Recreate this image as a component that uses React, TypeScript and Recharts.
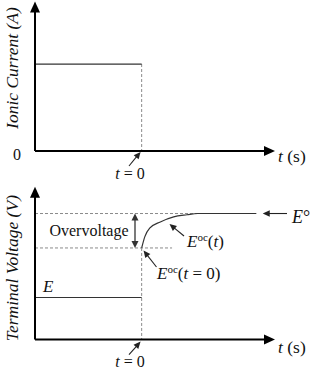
import React from 'react';
import { ComposedChart, Line, XAxis, YAxis, ReferenceLine, ReferenceDot } from 'recharts';

// ---- data ----
const T_DOMAIN: [number, number] = [-4, 6.5];
const T_START = -4;
const T_STEP = 0;
const T_AXIS_END = 5.0;

const I_DOMAIN: [number, number] = [-0.333, 1.736];
const I_LEVEL = 1;
const I_AXIS_TOP = 1.72;

const V_DOMAIN: [number, number] = [-0.702, 3.798];
const V_AXIS_TOP = 3.64;
const E_VALUE = 1.0;
const EOC0 = 2.18;
const E_STD = 3.0;

const currentT = [T_START, T_STEP];
const currentV = [I_LEVEL, I_LEVEL];
const voltT = [T_START, T_STEP];
const voltV = [E_VALUE, E_VALUE];
const curveT = [0, 0.12, 0.3, 0.7, 1.2, 1.7, 2.1, 4.3];
const curveV = [2.18, 2.45, 2.65, 2.8, 2.92, 2.97, 3.0, 3.0];

const yTitleTop = 'Ionic Current (A)';
const yTitleBottom = 'Terminal Voltage (V)';
const zeroTick = '0';
const stepLabel = '= 0';
const unitLabel = '(s)';
const overLabel = 'Overvoltage';

const currentData = currentT.map((t, i) => ({ t, v: currentV[i] }));
const voltData = voltT.map((t, i) => ({ t, v: voltV[i] }));
const curveData = curveT.map((t, i) => ({ t, v: curveV[i] }));

// ---- helpers ----
const FONT = 'Liberation Serif, DejaVu Serif, serif';
const INK = '#111';
const DASH = '#8a8a8a';

type ArrowOpt = { L: number; W: number; stroke: string; sw: number; both?: boolean };
const arrow = (o: ArrowOpt) => (p: any) => {
  const { x1, y1, x2, y2 } = p;
  const dx = x2 - x1, dy = y2 - y1;
  const len = Math.hypot(dx, dy) || 1;
  const ux = dx / len, uy = dy / len;
  const head = (tx: number, ty: number, vx: number, vy: number) => {
    const bx = tx - vx * o.L, by = ty - vy * o.L;
    return `${tx},${ty} ${bx - vy * o.W},${by + vx * o.W} ${bx + vy * o.W},${by - vx * o.W}`;
  };
  const sx = o.both ? x1 + ux * o.L * 0.8 : x1;
  const sy = o.both ? y1 + uy * o.L * 0.8 : y1;
  return (
    <g>
      <line x1={sx} y1={sy} x2={x2 - ux * o.L * 0.8} y2={y2 - uy * o.L * 0.8} stroke={o.stroke} strokeWidth={o.sw} />
      <polygon points={head(x2, y2, ux, uy)} fill={o.stroke} />
      {o.both && <polygon points={head(x1, y1, -ux, -uy)} fill={o.stroke} />}
    </g>
  );
};

const axisArrow = arrow({ L: 11, W: 5, stroke: '#000', sw: 2 });
const smallArrow = arrow({ L: 7, W: 3.2, stroke: '#222', sw: 1.1 });
const doubleArrow = arrow({ L: 7, W: 3.5, stroke: '#333', sw: 1.3, both: true });

const textAt = (dx: number, dy: number, content: React.ReactNode, extra: any = {}) => (p: any) => {
  const { fontSize = 16, fontStyle, ...rest } = extra;
  return (
    <text x={p.cx + dx} y={p.cy + dy} fill={INK} {...rest}
      style={{ fontFamily: FONT, fontSize, fontStyle: fontStyle || 'normal' }}>
      {content}
    </text>
  );
};

const rotTitle = (dx: number, label: string) => (p: any) => {
  const x = p.cx + dx, y = p.cy;
  return (
    <text x={x} y={y} transform={`rotate(-90 ${x} ${y})`} textAnchor="middle" fill={INK}
      style={{ fontFamily: FONT, fontStyle: 'italic', fontSize: 17.5 }}>
      {label}
    </text>
  );
};

const it = (s: string) => <tspan style={{ fontStyle: 'italic' }}>{s}</tspan>;

const tUnit = (
  <>
    {it('t')}
    <tspan> {unitLabel}</tspan>
  </>
);
const tZero = (
  <>
    {it('t')}
    <tspan> {stepLabel}</tspan>
  </>
);
const eoc = (arg: React.ReactNode) => (
  <>
    {it('E')}
    <tspan style={{ fontSize: 11 }} dy={-6}>oc</tspan>
    <tspan dy={6}>(</tspan>
    {arg}
    <tspan>)</tspan>
  </>
);

const axesCommon = (yDomain: [number, number]) => [
  <XAxis key="x" type="number" dataKey="t" domain={T_DOMAIN} hide allowDataOverflow />,
  <YAxis key="y" type="number" dataKey="v" domain={yDomain} hide allowDataOverflow />,
];

export default function App() {
  return (
    <div style={{ position: 'absolute', left: 0, top: 0, width: 315, height: 369, background: '#fff', fontFamily: FONT }}>
      {/* Top panel: ionic current */}
      <div style={{ position: 'absolute', left: 0, top: 0 }}>
        <ComposedChart width={315} height={186} margin={{ top: 0, right: 0, bottom: 6, left: 35 }}>
          {axesCommon(I_DOMAIN)}
          <ReferenceLine segment={[{ x: T_STEP, y: I_LEVEL }, { x: T_STEP, y: 0 }]} stroke={DASH} strokeDasharray="3 2" ifOverflow="visible" />
          <Line data={currentData} dataKey="v" type="linear" stroke="#333" strokeWidth={1.2} dot={false} isAnimationActive={false} />
          <ReferenceLine segment={[{ x: T_START, y: 0 }, { x: T_AXIS_END, y: 0 }]} shape={axisArrow} ifOverflow="visible" />
          <ReferenceLine segment={[{ x: T_START, y: 0 }, { x: T_START, y: I_AXIS_TOP }]} shape={axisArrow} ifOverflow="visible" />
          <ReferenceLine segment={[{ x: -0.475, y: -0.172 }, { x: -0.04, y: -0.01 }]} shape={smallArrow} ifOverflow="visible" />
          <ReferenceDot x={T_START} y={0.954} r={0} ifOverflow="visible" shape={rotTitle(-17, yTitleTop)} />
          <ReferenceDot x={T_START} y={0} r={0} ifOverflow="visible" shape={textAt(-14, 9, zeroTick, { textAnchor: 'end' })} />
          <ReferenceDot x={T_STEP} y={0} r={0} ifOverflow="visible" shape={textAt(-11.7, 28, tZero, { textAnchor: 'middle' })} />
          <ReferenceDot x={T_AXIS_END} y={0} r={0} ifOverflow="visible" shape={textAt(3, 11, tUnit, { fontSize: 17.5 })} />
        </ComposedChart>
      </div>

      {/* Bottom panel: terminal voltage */}
      <div style={{ position: 'absolute', left: 0, top: 180 }}>
        <ComposedChart width={315} height={189} margin={{ top: 0, right: 0, bottom: 0, left: 35 }}>
          {axesCommon(V_DOMAIN)}
          <ReferenceLine segment={[{ x: T_START, y: E_STD }, { x: 2.2, y: E_STD }]} stroke={DASH} strokeDasharray="3 2" ifOverflow="visible" />
          <ReferenceLine segment={[{ x: T_START, y: EOC0 }, { x: 1.14, y: EOC0 }]} stroke={DASH} strokeDasharray="3 2" ifOverflow="visible" />
          <ReferenceLine segment={[{ x: T_STEP, y: EOC0 }, { x: T_STEP, y: 0 }]} stroke={DASH} strokeDasharray="3 2" ifOverflow="visible" />
          <Line data={voltData} dataKey="v" type="linear" stroke="#333" strokeWidth={1.2} dot={false} isAnimationActive={false} />
          <Line data={curveData} dataKey="v" type="monotone" stroke="#333" strokeWidth={1.2} dot={false} isAnimationActive={false} />
          <ReferenceLine segment={[{ x: -0.25, y: E_STD }, { x: -0.25, y: EOC0 }]} shape={doubleArrow} ifOverflow="visible" />
          <ReferenceLine segment={[{ x: T_START, y: 0 }, { x: T_AXIS_END, y: 0 }]} shape={axisArrow} ifOverflow="visible" />
          <ReferenceLine segment={[{ x: T_START, y: 0 }, { x: T_START, y: V_AXIS_TOP }]} shape={axisArrow} ifOverflow="visible" />
          <ReferenceLine segment={[{ x: -0.475, y: -0.357 }, { x: -0.04, y: -0.05 }]} shape={smallArrow} ifOverflow="visible" />
          <ReferenceLine segment={[{ x: 5.45, y: E_STD }, { x: 4.54, y: E_STD }]} shape={smallArrow} ifOverflow="visible" />
          <ReferenceLine segment={[{ x: 1.588, y: 2.464 }, { x: 1.044, y: 2.75 }]} shape={smallArrow} ifOverflow="visible" />
          <ReferenceLine segment={[{ x: 0.556, y: 1.726 }, { x: 0.069, y: 2.119 }]} shape={smallArrow} ifOverflow="visible" />
          <ReferenceDot x={T_START} y={1.7} r={0} ifOverflow="visible" shape={rotTitle(-17, yTitleBottom)} />
          <ReferenceDot x={T_STEP} y={0} r={0} ifOverflow="visible" shape={textAt(-11.7, 27.5, tZero, { textAnchor: 'middle' })} />
          <ReferenceDot x={T_AXIS_END} y={0} r={0} ifOverflow="visible" shape={textAt(3, 13, tUnit, { fontSize: 17.5 })} />
          <ReferenceDot x={T_START} y={E_STD} r={0} ifOverflow="visible" shape={textAt(54, 22, overLabel, { textAnchor: 'middle' })} />
          <ReferenceDot x={T_START} y={E_VALUE} r={0} ifOverflow="visible" shape={textAt(8, -5.5, 'E', { fontStyle: 'italic', fontSize: 17 })} />
          <ReferenceDot x={T_AXIS_END} y={E_STD} r={0} ifOverflow="visible" shape={textAt(17, 9.5, <>{it('E')}<tspan>°</tspan></>, { fontSize: 18 })} />
          <ReferenceDot x={1.588} y={2.464} r={0} ifOverflow="visible" shape={textAt(3, 11, eoc(it('t')), { fontSize: 17 })} />
          <ReferenceDot x={0.556} y={1.726} r={0} ifOverflow="visible" shape={textAt(0.5, 12, eoc(<>{it('t')}<tspan> = 0</tspan></>), { fontSize: 17 })} />
        </ComposedChart>
      </div>
    </div>
  );
}
